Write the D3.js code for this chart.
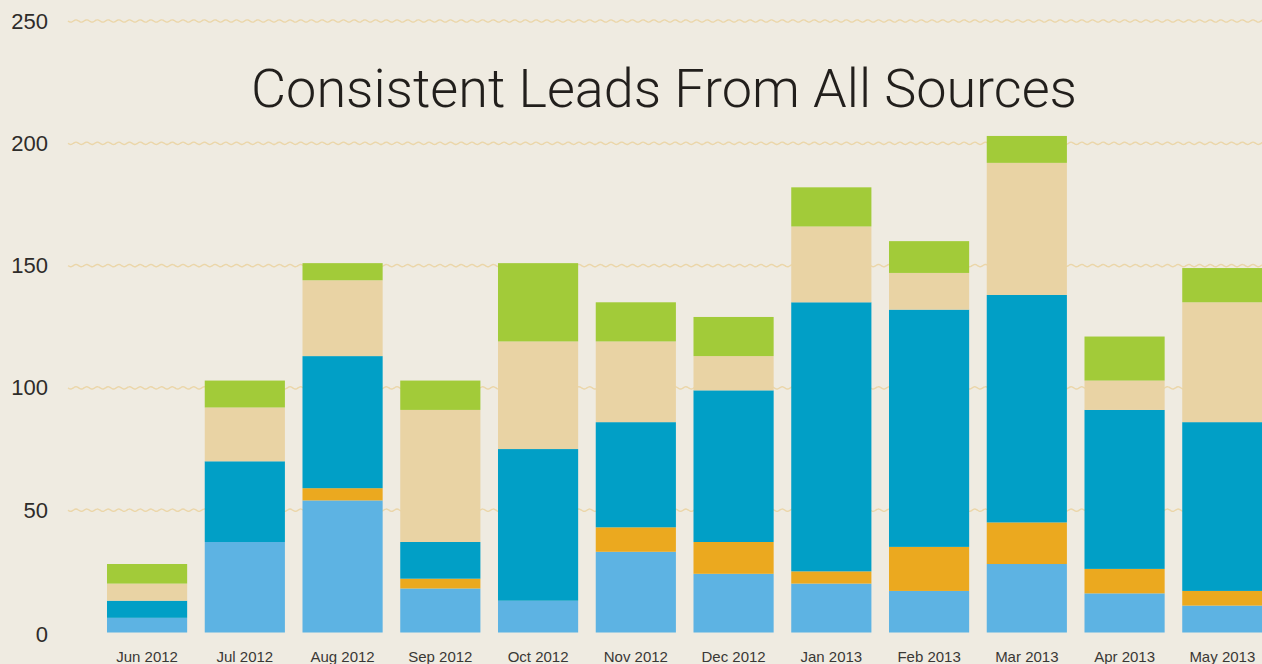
<!DOCTYPE html>
<html>
<head>
<meta charset="utf-8">
<script src="https://cdn.jsdelivr.net/npm/d3@7"></script>
<style>
  html, body { margin: 0; padding: 0; background: #efebe1; }
  svg { display: block; }
</style>
</head>
<body>
<svg id="chart"></svg>
<script>
// chart data (leads per month, stacked bottom to top)
var months = ["Jun 2012", "Jul 2012", "Aug 2012", "Sep 2012", "Oct 2012", "Nov 2012",
              "Dec 2012", "Jan 2013", "Feb 2013", "Mar 2013", "Apr 2013", "May 2013"];
var sourceA = [6, 37, 54, 18, 13, 33, 24, 20, 17, 28, 16, 11];   // light blue
var sourceB = [0, 0, 5, 4, 0, 10, 13, 5, 18, 17, 10, 6];        // orange
var sourceC = [7, 33, 54, 15, 62, 43, 62, 110, 97, 93, 65, 69];  // dark blue
var sourceD = [7, 22, 31, 54, 44, 33, 14, 31, 15, 54, 12, 49];   // tan
var sourceE = [8, 11, 7, 12, 32, 16, 16, 16, 13, 11, 18, 14];    // green
var yTicks = [0, 50, 100, 150, 200, 250];
var titleText = "Consistent Leads From All Sources";

var seriesKeys = ["a", "b", "c", "d", "e"];
var colors = { a: "#5db3e3", b: "#eba91f", c: "#019fc6", d: "#e9d3a4", e: "#a2cb39" };

var svgWidth = 1262;
var svgHeight = 664;

var svg = d3.select("#chart")
  .attr("width", svgWidth)
  .attr("height", svgHeight);

svg.append("rect")
  .attr("width", svgWidth)
  .attr("height", svgHeight)
  .attr("fill", "#efebe1");

// build table for the stack layout
var table = months.map(function (m, i) {
  return { month: m, a: sourceA[i], b: sourceB[i], c: sourceC[i], d: sourceD[i], e: sourceE[i] };
});

var xScale = d3.scaleBand()
  .domain(months)
  .range([98.2, 1271.2])
  .paddingInner(0.18)
  .paddingOuter(0.09);

var yScale = d3.scaleLinear()
  .domain([0, 250])
  .range([632.5, 21]);

// wavy grid lines
var waveLine = d3.line().curve(d3.curveBasis);
function wavePath(y) {
  var pts = [];
  for (var x = 68; x <= svgWidth + 2; x += 1) {
    pts.push([x, y + 1.2 * Math.sin((x - 68) / 10.7 * 2 * Math.PI)]);
  }
  return waveLine(pts);
}

svg.append("g")
  .attr("class", "grid")
  .selectAll("path")
  .data(yTicks.filter(function (t) { return t > 0; }))
  .enter()
  .append("path")
  .attr("d", function (d) { return wavePath(yScale(d)); })
  .attr("fill", "none")
  .attr("stroke", "#ebd6a9")
  .attr("stroke-width", 1.4);

// y labels
svg.append("g")
  .attr("class", "y-labels")
  .selectAll("text")
  .data(yTicks)
  .enter()
  .append("text")
  .attr("x", 48)
  .attr("y", function (d) { return yScale(d) + (d === 0 ? 2 : 0); })
  .attr("text-anchor", "end")
  .attr("dominant-baseline", "central")
  .attr("font-family", "'Liberation Sans', Arial, sans-serif")
  .attr("font-size", 22)
  .attr("fill", "#2e2c2a")
  .text(function (d) { return d; });

// stacked bars
var stacked = d3.stack().keys(seriesKeys)(table);

svg.append("g")
  .attr("class", "bars")
  .selectAll("g")
  .data(stacked)
  .enter()
  .append("g")
  .attr("fill", function (d) { return colors[d.key]; })
  .selectAll("rect")
  .data(function (d) { return d; })
  .enter()
  .append("rect")
  .attr("x", function (d) { return xScale(d.data.month); })
  .attr("y", function (d) { return yScale(d[1]); })
  .attr("width", xScale.bandwidth())
  .attr("height", function (d) { return yScale(d[0]) - yScale(d[1]); });

// x labels
svg.append("g")
  .attr("class", "x-labels")
  .selectAll("text")
  .data(months)
  .enter()
  .append("text")
  .attr("x", function (d) { return xScale(d) + xScale.bandwidth() / 2; })
  .attr("y", 656)
  .attr("text-anchor", "middle")
  .attr("dominant-baseline", "central")
  .attr("font-family", "'Liberation Sans', Arial, sans-serif")
  .attr("font-size", 15)
  .attr("fill", "#3a3835")
  .text(function (d) { return d; });

// title
svg.append("text")
  .attr("x", 664)
  .attr("y", 107)
  .attr("text-anchor", "middle")
  .attr("font-family", "Roboto, 'Open Sans', sans-serif")
  .attr("font-weight", 300)
  .attr("font-size", 54)
  .attr("fill", "#221f1c")
  .text(titleText);
</script>
</body>
</html>
